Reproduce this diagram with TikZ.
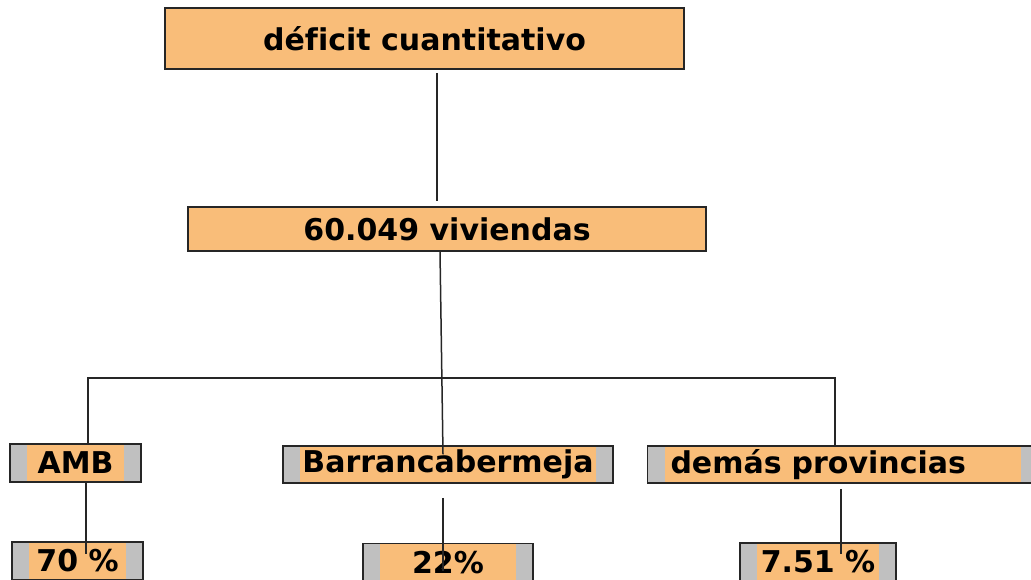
\documentclass[tikz,border=0pt]{standalone}
\usepackage{fontspec}
\setmainfont[Ligatures=NoCommon]{DejaVu Sans}
\definecolor{boxorange}{RGB}{249,189,121}
\definecolor{bandgray}{RGB}{192,192,192}
\tikzset{
  box/.style = {draw = black!85, line width = .75pt, fill = boxorange, font = \fontsize{15}{18}\selectfont\bfseries, inner sep = 0pt},
  band/.style = {box, fill = bandgray, path picture = {\fill[boxorange] ([xshift=8.5pt]path picture bounding box.south west) rectangle ([xshift=-8.5pt]path picture bounding box.north east);}},
  link/.style = {line width = .75pt, black!85}
}
\begin{document}
\begin{tikzpicture}[x = .5pt, y = -.5pt]
                \clip (0,0) rectangle (1031,579);
                \node[box, minimum width = 259.5pt, minimum height = 30.5pt] (top) at (424.5,38.5) {déficit cuantitativo};
                \node[box, minimum width = 259pt, minimum height = 22pt] (viv) at (447,229) {60.049 viviendas};
                \node[band, minimum width = 65.5pt, minimum height = 19pt] (amb) at (75.5,463) {AMB};
                \node[band, minimum width = 165pt, minimum height = 18.5pt] (barr) at (448,464.5) {Barrancabermeja};
                \node[band, text width = 172pt, inner xsep = 11.5pt, align = left, minimum height = 18.5pt] (dem) at (842.5,464.5) {demás provincias};
                \node[band, minimum width = 65.5pt, minimum height = 19pt] (pamb) at (77.5,561) {70 \%};
                \node[band, minimum width = 85pt, minimum height = 19pt] (pbarr) at (448,562.5) {22\%};
                \node[band, minimum width = 78pt, minimum height = 19pt] (pdem) at (818,562) {7.51 \%};
                \coordinate (hub) at (440,378);
                \draw[link] ([xshift=6.25pt, yshift=-1.5pt]top.south) -- ([xshift=-5pt, yshift=2.5pt]viv.north);
                \draw[link] ([xshift=-3.5pt]viv.south) -- ([xshift=-2.5pt, yshift=-4.5pt]barr.north);
                \draw[link] ([xshift=6.25pt]amb.north) |- (hub) -| ([xshift=-3.75pt]dem.north);
                \draw[link] ([xshift=5.25pt]amb.south) -- ([xshift=4.25pt, yshift=-6.5pt]pamb.north);
                \draw[link] ([xshift=-2.5pt, yshift=-7pt]barr.south) -- ([xshift=-2.5pt, yshift=-14pt]pbarr.north);
                \draw[link] ([xshift=-0.75pt, yshift=-2.5pt]dem.south) -- ([xshift=11.5pt, yshift=-6pt]pdem.north);
                \end{tikzpicture}
\end{document}
